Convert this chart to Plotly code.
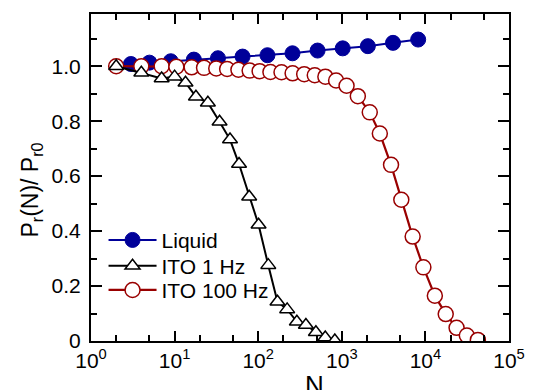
import plotly.graph_objects as go

# ---- data ----
liquid_N = [3, 5, 9, 17, 33, 65, 129, 257, 513, 1025, 2049, 4097, 8193]
liquid_P = [1.008, 1.013, 1.018, 1.024, 1.029, 1.035, 1.040, 1.047, 1.057, 1.065, 1.073, 1.085, 1.097]

ito1_N = [2, 4, 7, 10, 13.5, 18, 25, 34.5, 46, 59, 78, 101, 132, 170, 222, 290, 372, 490, 634, 825]
ito1_P = [1.0, 0.976, 0.955, 0.962, 0.940, 0.889, 0.867, 0.798, 0.733, 0.644, 0.525, 0.423, 0.276, 0.143,
          0.115, 0.070, 0.058, 0.032, 0.013, 0.002]

ito100_N = [2, 4, 7, 10.5, 16, 22.5, 31.5, 42.5, 58, 79, 104, 140, 190, 258, 355, 475, 636, 855, 1140,
            1555, 2160, 2850, 3880, 5150, 7040, 9460, 12970, 17500, 23600, 31300, 42400]
ito100_P = [1.0, 1.0, 1.0, 0.998, 0.996, 0.994, 0.992, 0.990, 0.987, 0.984, 0.982, 0.979, 0.978, 0.974,
            0.971, 0.967, 0.962, 0.948, 0.929, 0.891, 0.832, 0.755, 0.641, 0.514, 0.380, 0.268, 0.165,
            0.098, 0.048, 0.020, 0.004]

x_tickvals = [1, 10, 100, 1000, 10000, 100000]
x_ticktext = ["10<sup>0</sup>", "10<sup>1</sup>", "10<sup>2</sup>", "10<sup>3</sup>", "10<sup>4</sup>", "10<sup>5</sup>"]
y_tickvals = [0, 0.2, 0.4, 0.6, 0.8, 1.0]
y_ticktext = ["0", "0.2", "0.4", "0.6", "0.8", "1.0"]

BLUE = "#000099"
RED = "#990000"
FONT = "Arial, Liberation Sans, sans-serif"

fig = go.Figure()
fig.add_trace(go.Scatter(
    x=liquid_N, y=liquid_P, name="Liquid", mode="lines+markers", legend="legend",
    line=dict(color=BLUE, width=2),
    marker=dict(symbol="circle", size=15, color=BLUE, line=dict(color=BLUE, width=1)),
))
fig.add_trace(go.Scatter(
    x=ito100_N, y=ito100_P, name="ITO 100 Hz", mode="lines+markers", legend="legend3",
    line=dict(color=RED, width=2.2),
    marker=dict(symbol="circle", size=15, color="white", line=dict(color=RED, width=1.5)),
))
fig.add_trace(go.Scatter(
    x=ito1_N, y=ito1_P, name="ITO 1 Hz", mode="lines+markers", legend="legend2",
    line=dict(color="black", width=2),
    marker=dict(symbol="triangle-up", size=13, color="white", line=dict(color="black", width=1.5)),
))

axis_common = dict(
    showline=True, linewidth=2, linecolor="black", mirror="ticks",
    ticks="inside", tickwidth=1.5, tickcolor="black", showgrid=False, zeroline=False,
    tickfont=dict(family=FONT, size=21, color="black"),
)

fig.update_xaxes(
    type="log", range=[0, 5], tickvals=x_tickvals, ticktext=x_ticktext, ticklen=10,
    minor=dict(ticks="inside", ticklen=6, tickwidth=1.5, tickcolor="black", showgrid=False),
    **axis_common,
)
fig.update_yaxes(
    range=[0, 1.19], tickvals=y_tickvals, ticktext=y_ticktext, ticklen=11,
    minor=dict(ticks="inside", ticklen=6, tickwidth=1.5, tickcolor="black", dtick=0.1, tick0=0, showgrid=False),
    ticklabelstandoff=4,
    **axis_common,
)

fig.add_annotation(
    text="P<sub>r</sub>(N)/ P<sub>r0</sub>", textangle=-90, xref="paper", yref="paper",
    x=-0.142, y=0.462, xanchor="center", yanchor="middle", showarrow=False,
    font=dict(family=FONT, size=23, color="black"),
)
fig.add_annotation(
    text="N", xref="paper", yref="paper", x=0.535, y=-0.136, xanchor="center", yanchor="middle",
    showarrow=False, font=dict(family=FONT, size=26, color="black"),
)

leg_common = dict(
    x=0.03, xanchor="left", yanchor="middle", bgcolor="rgba(0,0,0,0)",
    font=dict(family=FONT, size=21, color="black"), itemwidth=48,
)

fig.update_layout(
    width=537, height=390,
    margin=dict(l=91, r=20, t=13, b=49),
    paper_bgcolor="white", plot_bgcolor="white",
    showlegend=True,
    legend=dict(y=0.308, **leg_common),
    legend2=dict(y=0.229, **leg_common),
    legend3=dict(y=0.155, **leg_common),
    font=dict(family=FONT),
)

fig.write_html(
    "out.html",
    config={"displayModeBar": False},
    post_script="document.body.style.margin='0';document.body.style.overflow='hidden';",
)
